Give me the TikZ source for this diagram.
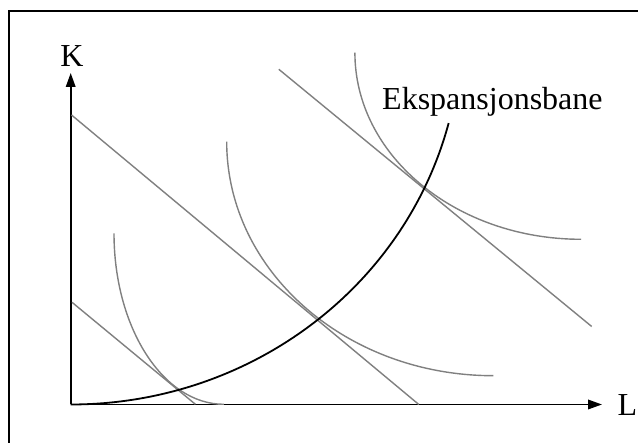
\documentclass[tikz,border=0pt]{standalone}
\usepackage{fontspec}
\setmainfont{Liberation Serif}
\usetikzlibrary{arrows.meta}
\begin{document}
\begin{tikzpicture}[x=1pt,y=1pt,
  frame/.style={line width=1.3pt,black},
  axis/.style={line width=1.8pt,black,-{Triangle[length=14pt,width=9.5pt]}},
  budget/.style={line width=1.4pt,color={rgb,255:red,128;green,128;blue,128}},
  iso/.style={line width=1.4pt,color={rgb,255:red,128;green,128;blue,128}},
  exppath/.style={line width=1.8pt,black},
  lbl/.style={inner sep=0pt,font=\fontsize{32}{38}\selectfont}]
\useasboundingbox (0,0) rectangle (638,443);
\fill[white] (0,0) rectangle (638,443);
% frame (cropped at right and bottom)
\draw[frame] (9,-5) -- (9,432) -- (645,432);
% axes
\coordinate (O) at (70.7,38.5);
\coordinate (Ktip) at (70.7,370);
\coordinate (Ltip) at (602,38.5);
\draw[axis] (O) -- (Ktip);
\draw[axis] (O) -- (Ltip);
\node[lbl,anchor=base] (K) at (72,376.3) {K};
\node[lbl,anchor=base] (L) at (627.5,27) {L};
% budget lines
\coordinate (b1s) at (72,140.7);  \coordinate (b1e) at (195.4,38.7);
\coordinate (b2s) at (71.5,328);  \coordinate (b2e) at (418.8,38.5);
\coordinate (b3s) at (278.8,373.7); \coordinate (b3e) at (591.7,116.5);
\draw[budget] (b1s) -- (b1e);
\draw[budget] (b2s) -- (b2e);
\draw[budget] (b3s) -- (b3e);
% isoquants (quarter ellipses)
\coordinate (i1) at (114,209.7);
\coordinate (i2) at (226.7,301.3);
\coordinate (i3) at (354.9,390.3);
\draw[iso] (i1) arc[start angle=180,end angle=270,x radius=109.8,y radius=171];
\draw[iso] (i2) arc[start angle=180,end angle=270,x radius=266.6,y radius=234];
\draw[iso] (i3) arc[start angle=180,end angle=270,x radius=226.3,y radius=186.6];
% expansion path
\draw[exppath] (O) arc[start angle=270,end angle=345.5,x radius=390.4,y radius=375.4];
\node[lbl,anchor=base west] (E) at (382,333) {Ekspansjonsbane};
\end{tikzpicture}
\end{document}
